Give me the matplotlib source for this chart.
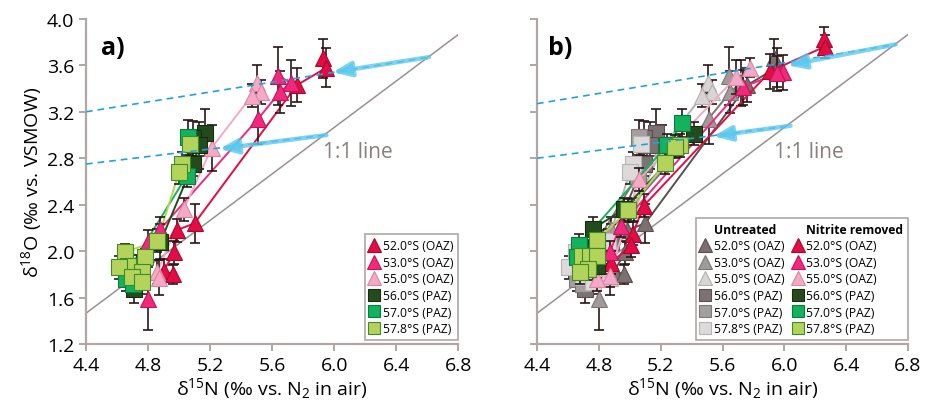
import matplotlib
matplotlib.use("Agg")
import matplotlib.pyplot as plt
from matplotlib.lines import Line2D
import numpy as np

plt.rcParams['font.family'] = ['Open Sans', 'DejaVu Sans']
plt.rcParams['mathtext.default'] = 'regular'

# ── data: untreated samples (panel a, and grey in panel b) ──────────────────
# (x = d15N, y = d18O, yerr)
STATIONS = ['52.0°S (OAZ)', '53.0°S (OAZ)', '55.0°S (OAZ)',
            '56.0°S (PAZ)', '57.0°S (PAZ)', '57.8°S (PAZ)']
MARKERS = ['^', '^', '^', 's', 's', 's']

u52_x = [5.93, 5.95, 5.76, 5.10, 4.985, 4.97, 4.90, 4.96]
u52_y = [3.66, 3.58, 3.43, 2.24, 2.18, 1.99, 1.83, 1.80]
u52_e = [0.17, 0.17, 0.15, 0.17, 0.10, 0.10, 0.10, 0.08]

u53_x = [5.64, 5.72, 5.65, 5.51, 4.88, 4.80, 4.80]
u53_y = [3.51, 3.45, 3.37, 3.14, 2.19, 2.08, 1.59]
u53_e = [0.25, 0.20, 0.18, 0.22, 0.10, 0.10, 0.27]

u55_x = [5.505, 5.53, 5.47, 5.21, 5.03, 4.86, 4.87]
u55_y = [3.45, 3.37, 3.34, 2.89, 2.36, 1.82, 1.77]
u55_e = [0.15, 0.10, 0.10, 0.20, 0.10, 0.10, 0.15]

u56_x = [5.17, 5.09, 5.13, 5.09, 4.88, 4.73, 4.71]
u56_y = [3.02, 2.97, 2.91, 2.75, 2.08, 1.87, 1.67]
u56_e = [0.20, 0.15, 0.20, 0.10, 0.15, 0.10, 0.12]

u57_x = [5.06, 5.05, 4.68, 4.66, 4.70]
u57_y = [2.98, 2.65, 1.85, 1.76, 1.72]
u57_e = [0.15, 0.10, 0.10, 0.10, 0.10]

u578_x = [5.07, 5.02, 5.00, 4.86, 4.65, 4.78, 4.67, 4.61, 4.76, 4.695, 4.76]
u578_y = [2.92, 2.75, 2.68, 2.09, 1.99, 1.95, 1.87, 1.86, 1.82, 1.78, 1.73]
u578_e = [0.10, 0.10, 0.10, 0.10, 0.07, 0.07, 0.10, 0.10, 0.10, 0.10, 0.10]

# ── data: nitrite removed (panel b, coloured) ───────────────────────────────
n52_x = [6.256, 6.26, 5.91, 5.09, 5.02, 5.01, 4.88]
n52_y = [3.83, 3.76, 3.55, 2.39, 2.15, 2.05, 1.90]
n52_e = [0.10, 0.10, 0.15, 0.10, 0.10, 0.10, 0.10]

n53_x = [5.99, 5.95, 5.73, 4.94, 4.87]
n53_y = [3.54, 3.53, 3.41, 2.22, 1.99]
n53_e = [0.15, 0.15, 0.15, 0.10, 0.10]

n55_x = [5.78, 5.69, 5.06, 4.87, 4.79]
n55_y = [3.58, 3.50, 2.62, 1.79, 1.76]
n55_e = [0.08, 0.15, 0.10, 0.10, 0.10]

n56_x = [5.415, 4.96, 4.76, 4.72, 4.79]
n56_y = [3.01, 2.36, 2.19, 2.00, 1.87]
n56_e = [0.10, 0.10, 0.10, 0.10, 0.10]

n57_x = [5.34, 5.24, 4.67, 4.66, 4.70]
n57_y = [3.10, 2.91, 2.05, 1.95, 1.85]
n57_e = [0.12, 0.10, 0.10, 0.10, 0.10]

n578_x = [5.325, 5.29, 5.23, 4.99, 4.79, 4.69, 4.74, 4.79, 4.73, 4.68]
n578_y = [2.91, 2.90, 2.76, 2.35, 2.10, 1.96, 1.96, 1.96, 1.85, 1.82]
n578_e = [0.10, 0.10, 0.10, 0.10, 0.10, 0.10, 0.10, 0.10, 0.10, 0.10]

UNTREATED = [(u52_x, u52_y, u52_e), (u53_x, u53_y, u53_e), (u55_x, u55_y, u55_e),
             (u56_x, u56_y, u56_e), (u57_x, u57_y, u57_e), (u578_x, u578_y, u578_e)]
NITRITE = [(n52_x, n52_y, n52_e), (n53_x, n53_y, n53_e), (n55_x, n55_y, n55_e),
           (n56_x, n56_y, n56_e), (n57_x, n57_y, n57_e), (n578_x, n578_y, n578_e)]

# colours
COL = ['#e30c45', '#f2287c', '#f6a9c6', '#244b1d', '#12b35c', '#b3d35a']
EDGE = ['#a8082f', '#c01558', '#d9869f', '#122e0d', '#0a7a3a', '#3c8c2c']
GREY = ['#7b7070', '#a29a9a', '#d9d5d5', '#7d7272', '#a59e9e', '#dcdada']
GEDGE = ['#5a5050', '#7e7676', '#b5b0b0', '#5a5050', '#807878', '#b8b4b4']

# 1:1 line and cyan mixing lines (panel a, panel b)
ONE_X = [4.4, 6.8]
ONE_Y = [1.465, 3.865]
CYAN_A = [((4.4, 3.20), (6.61, 3.67), (5.99, 3.54)),
          ((4.4, 2.75), (5.95, 3.00), (5.26, 2.88))]
CYAN_B = [((4.4, 3.27), (6.72, 3.78), (6.02, 3.60)),
          ((4.4, 2.80), (6.04, 3.08), (5.54, 2.99))]

SPINE = '#b0a6a6'
ERRC = '#2a1616'


def draw_series(ax, data, face, edge, marker, ms, z):
    x, y, e = data
    ax.plot(x, y, '-', color=face if face not in GREY else edge, lw=1.4, zorder=z)
    ax.errorbar(x, y, yerr=e, fmt='none', ecolor=ERRC, elinewidth=1.2,
                capsize=3.5, capthick=1.2, zorder=z + 0.5)
    ax.plot(x, y, marker, ls='none', ms=ms, mfc=face, mec=edge, mew=0.8,
            zorder=z + 1)


def style_axes(ax, ylabels=True):
    ax.set_xlim(4.4, 6.8)
    ax.set_ylim(1.2, 4.0)
    ax.set_xticks(np.arange(4.4, 6.81, 0.4))
    ax.set_xticklabels([f'{v:.1f}' for v in np.arange(4.4, 6.81, 0.4)])
    ax.set_yticks(np.arange(1.2, 4.01, 0.4))
    if ylabels:
        ax.set_yticklabels([f'{v:.1f}' for v in np.arange(1.2, 4.01, 0.4)])
    else:
        ax.set_yticklabels([])
    for s in ['top', 'right']:
        ax.spines[s].set_visible(False)
    for s in ['left', 'bottom']:
        ax.spines[s].set_color(SPINE)
        ax.spines[s].set_linewidth(1.6)
    ax.tick_params(colors=SPINE, labelcolor='black', width=1.4, length=5,
                   labelsize=14)
    ax.set_xlabel(r'δ$^{15}$N (‰ vs. N$_2$ in air)', fontsize=14, labelpad=1)
    ax.plot(ONE_X, ONE_Y, color='#9b9090', lw=1.1, zorder=1)
    ax.text(5.93, 2.86, '1:1 line', fontsize=15, color='#8a7e7e', va='center',
            zorder=1)


def draw_cyan(ax, lines):
    for start, end, tip in lines:
        ax.plot([start[0], end[0]], [start[1], end[1]], ls=(0, (4, 3)),
                color='#1fa3dc', lw=1.2, zorder=8)
        ax.annotate('', xy=tip, xytext=end,
                    arrowprops=dict(arrowstyle='-|>,head_length=1.1,head_width=0.45',
                                    color='#5cc8ee', lw=3.2, alpha=0.8,
                                    shrinkA=0, shrinkB=0),
                    zorder=9)


fig = plt.figure(figsize=(9.33, 4.10), dpi=100)
ax_a = fig.add_axes([0.0922, 0.1585, 0.399, 0.793])
ax_b = fig.add_axes([0.5756, 0.1585, 0.3976, 0.793])

# ── panel a ──
style_axes(ax_a)
for k, data in enumerate(UNTREATED):
    ms = 12 if MARKERS[k] == '^' else 11
    draw_series(ax_a, data, COL[k], EDGE[k], MARKERS[k], ms, 3 + k * 0.1)
draw_cyan(ax_a, CYAN_A)
ax_a.set_ylabel(r'δ$^{18}$O (‰ vs. VSMOW)', fontsize=14, labelpad=2)
ax_a.text(0.04, 0.95, 'a)', transform=ax_a.transAxes, fontsize=18,
          fontweight='bold', va='top')

handles_a = [Line2D([], [], marker=MARKERS[k], ls='none', ms=10 if k < 3 else 9,
                    mfc=COL[k], mec=EDGE[k], mew=0.8) for k in range(6)]
leg = ax_a.legend(handles_a, STATIONS, loc='lower right',
                  bbox_to_anchor=(1.0, 0.012), borderaxespad=0, fontsize=8.7,
                  handlelength=0.8, handletextpad=0.3, labelspacing=0.3,
                  fancybox=False, framealpha=1, borderpad=0.4)
leg.get_frame().set_edgecolor(SPINE)
leg.get_frame().set_linewidth(1.2)

# ── panel b ──
style_axes(ax_b, ylabels=False)
for k, data in enumerate(UNTREATED):
    ms = 12 if MARKERS[k] == '^' else 11
    draw_series(ax_b, data, GREY[k], GEDGE[k], MARKERS[k], ms, 2 + k * 0.1)
for k, data in enumerate(NITRITE):
    ms = 12 if MARKERS[k] == '^' else 11
    draw_series(ax_b, data, COL[k], EDGE[k], MARKERS[k], ms, 4 + k * 0.1)
draw_cyan(ax_b, CYAN_B)
ax_b.text(0.03, 0.95, 'b)', transform=ax_b.transAxes, fontsize=18,
          fontweight='bold', va='top')

blank = Line2D([], [], ls='none')
h_u = [Line2D([], [], marker=MARKERS[k], ls='none', ms=10 if k < 3 else 9,
              mfc=GREY[k], mec=GEDGE[k], mew=0.8) for k in range(6)]
h_n = [Line2D([], [], marker=MARKERS[k], ls='none', ms=10 if k < 3 else 9,
              mfc=COL[k], mec=EDGE[k], mew=0.8) for k in range(6)]
leg_b = ax_b.legend([blank] + h_u + [blank] + h_n,
                    ['Untreated'] + STATIONS + ['Nitrite removed'] + STATIONS,
                    ncol=2, loc='lower right', bbox_to_anchor=(1.0, 0.012),
                    borderaxespad=0, fontsize=8.7, handlelength=0.8,
                    handletextpad=0.3, labelspacing=0.3, columnspacing=0.7,
                    fancybox=False, framealpha=1, borderpad=0.4)
leg_b.get_frame().set_edgecolor(SPINE)
leg_b.get_frame().set_linewidth(1.2)
for t in leg_b.get_texts():
    if t.get_text() in ('Untreated', 'Nitrite removed'):
        t.set_fontweight('bold')

fig.savefig('out.png', dpi=100, facecolor='white')
